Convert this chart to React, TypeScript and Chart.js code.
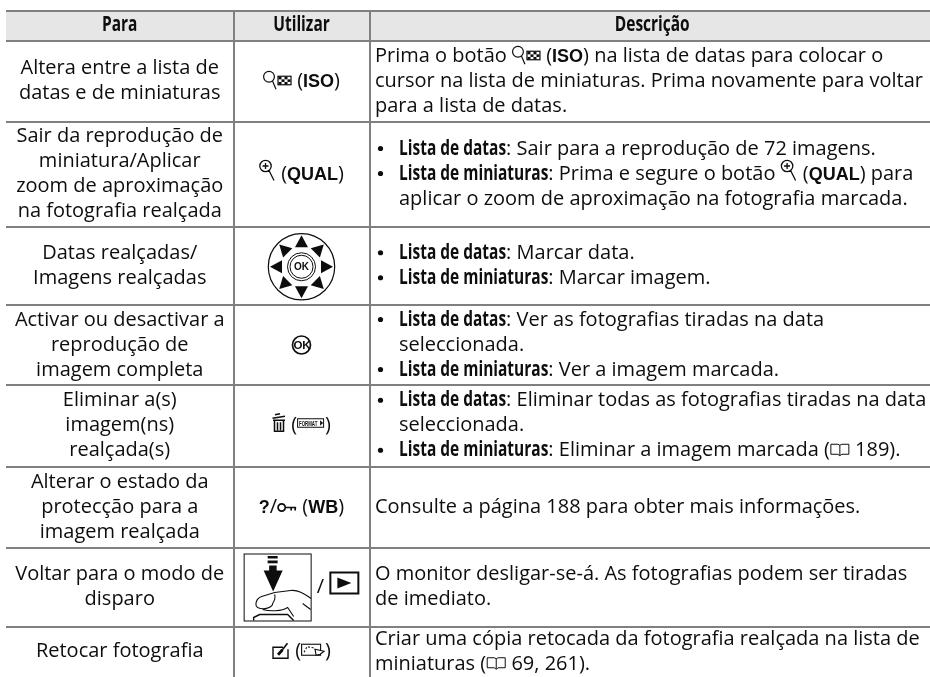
import React, { useEffect, useRef } from "react";
import { Chart, registerables } from "chart.js";

Chart.register(...registerables);

const headers = ["Para", "Utilizar", "Descrição"];

const paraCells = [
  ["Altera entre a lista de", "datas e de miniaturas"],
  ["Sair da reprodução de", "miniatura/Aplicar", "zoom de aproximação", "na fotografia realçada"],
  ["Datas realçadas/", "Imagens realçadas"],
  ["Activar ou desactivar a", "reprodução de", "imagem completa"],
  ["Eliminar a(s)", "imagem(ns)", "realçada(s)"],
  ["Alterar o estado da", "protecção para a", "imagem realçada"],
  ["Voltar para o modo de", "disparo"],
  ["Retocar fotografia"],
];

const utilizarCells = [
  ["{qgrid} ([[ISO]])"],
  ["{zoomin} ([[QUAL]])"],
  ["{selector}"],
  ["{ok}"],
  ["{trash} ({format})"],
  ["[[?]]/{key} ([[WB]])"],
  ["{shutter} / {play}"],
  ["{retouch} ({trim})"],
];

const descricaoCells = [
  [
    "Prima o botão {qgrid} ([[ISO]]) na lista de datas para colocar o",
    "cursor na lista de miniaturas. Prima novamente para voltar",
    "para a lista de datas.",
  ],
  [
    "• **Lista de datas**: Sair para a reprodução de 72 imagens.",
    "• **Lista de miniaturas**: Prima e segure o botão {zoomin} ([[QUAL]]) para",
    "> aplicar o zoom de aproximação na fotografia marcada.",
  ],
  ["• **Lista de datas**: Marcar data.", "• **Lista de miniaturas**: Marcar imagem."],
  [
    "• **Lista de datas**: Ver as fotografias tiradas na data",
    "> seleccionada.",
    "• **Lista de miniaturas**: Ver a imagem marcada.",
  ],
  [
    "• **Lista de datas**: Eliminar todas as fotografias tiradas na data",
    "> seleccionada.",
    "• **Lista de miniaturas**: Eliminar a imagem marcada ({book} 189).",
  ],
  ["Consulte a página 188 para obter mais informações."],
  ["O monitor desligar-se-á. As fotografias podem ser tiradas", "de imediato."],
  ["Criar uma cópia retocada da fotografia realçada na lista de", "miniaturas ({book} 69, 261)."],
];

const columnLines = [233.5, 369.5];
const columnEdges = [6, 233.5, 369.5, 930];
const rowLines = [11, 41, 121.5, 226.5, 305, 385, 466.5, 547.5, 626.5];
const rowEdges = [...rowLines, 677];

const INK = "#0d0d0d";
const RULE = "#808080";
const HEADER_FILL = "#e6e6e6";
const REG_FONT = '20.5px "Open Sans"';
const REG_SCALE = 0.975;
const COND_FONT = 'bold 20.5px "Open Sans"';
const COND_SCALE = 0.755;
const WIDE_FONT = 'bold 18px "Liberation Sans"';

const iconWidths: Record<string, number> = {
  qgrid: 29,
  zoomin: 17,
  selector: 68,
  ok: 20,
  trash: 14,
  format: 28,
  key: 20,
  shutter: 68,
  play: 30,
  retouch: 18,
  trim: 24,
  book: 20,
};

type Ctx = CanvasRenderingContext2D;

function poly(c: Ctx, pts: number[][]) {
  c.beginPath();
  pts.forEach((p, i) => (i ? c.lineTo(p[0], p[1]) : c.moveTo(p[0], p[1])));
  c.closePath();
}

function drawIcon(c: Ctx, name: string, x: number, b: number) {
  c.save();
  c.translate(x, b);
  c.strokeStyle = INK;
  c.fillStyle = INK;
  c.lineWidth = 1.2;
  c.lineCap = "butt";
  if (name === "qgrid") {
    c.beginPath();
    c.arc(6, -10, 5.4, 0, Math.PI * 2);
    c.moveTo(9.5, -5.8);
    c.lineTo(13, 2.5);
    c.stroke();
    c.strokeRect(15, -10.5, 13, 8.5);
    for (let i = 0; i < 4; i++)
      for (let j = 0; j < 3; j++)
        if ((i + j) % 2 === 0) c.fillRect(15.5 + i * 3, -10 + j * 2.6, 3, 2.6);
  } else if (name === "zoomin") {
    c.lineWidth = 1.3;
    c.beginPath();
    c.arc(6.5, -13.5, 5.7, 0, Math.PI * 2);
    c.moveTo(3.5, -13.5);
    c.lineTo(9.5, -13.5);
    c.moveTo(6.5, -16.5);
    c.lineTo(6.5, -10.5);
    c.moveTo(10, -9);
    c.lineTo(15, 1);
    c.stroke();
  } else if (name === "selector") {
    const cx = 34;
    const cy = -4.5;
    c.beginPath();
    c.arc(cx, cy, 33.2, 0, Math.PI * 2);
    c.stroke();
    for (let k = 0; k < 8; k++) {
      const a = (k * Math.PI) / 4;
      c.save();
      c.translate(cx, cy);
      c.rotate(a);
      poly(c, [
        [0, -31.5],
        [-6.5, -19.5],
        [6.5, -19.5],
      ]);
      c.fill();
      c.restore();
    }
    c.lineWidth = 1;
    c.beginPath();
    c.arc(cx, cy, 14, 0, Math.PI * 2);
    c.moveTo(cx + 11.5, cy);
    c.arc(cx, cy, 11.5, 0, Math.PI * 2);
    c.stroke();
    c.font = 'bold 10px "Liberation Sans"';
    c.textAlign = "center";
    c.fillText("OK", cx, cy + 3.6);
  } else if (name === "ok") {
    c.lineWidth = 1.7;
    c.beginPath();
    c.arc(10, -5.5, 9, 0, Math.PI * 2);
    c.stroke();
    c.font = 'bold 11.5px "Liberation Sans"';
    c.textAlign = "center";
    c.fillText("OK", 10.5, -1.5);
  } else if (name === "trash") {
    c.lineWidth = 1.5;
    c.beginPath();
    c.moveTo(0.5, -13);
    c.lineTo(13, -15);
    c.moveTo(3, -16.5);
    c.lineTo(8, -17.5);
    c.moveTo(1, -11);
    c.lineTo(13, -11);
    c.moveTo(2.5, -11);
    c.lineTo(2.5, 0);
    c.lineTo(11.5, 0);
    c.lineTo(11.5, -11);
    c.moveTo(5.5, -9);
    c.lineTo(5.5, -1);
    c.moveTo(8.5, -9);
    c.lineTo(8.5, -1);
    c.stroke();
  } else if (name === "format") {
    c.lineWidth = 1;
    c.strokeRect(0.5, -12.5, 26, 8.5);
    c.save();
    c.translate(2, -5.7);
    c.scale(0.62, 1);
    c.font = 'bold 7px "Liberation Sans"';
    c.fillText("FORMAT", 0, 0);
    c.restore();
    poly(c, [
      [23, -11],
      [26, -8.2],
      [23, -5.5],
    ]);
    c.fill();
  } else if (name === "key") {
    c.lineWidth = 1.7;
    c.beginPath();
    c.arc(4.5, -5, 3.6, 0, Math.PI * 2);
    c.moveTo(8, -5);
    c.lineTo(19, -5);
    c.moveTo(14, -5);
    c.lineTo(14, -2);
    c.moveTo(18, -5);
    c.lineTo(18, -2);
    c.stroke();
  } else if (name === "shutter") {
    c.translate(0, -39);
    c.lineWidth = 1;
    c.strokeRect(0.5, 0.5, 67, 67);
    c.fillRect(24, 2.5, 10, 2.5);
    c.fillRect(24, 7, 10, 2.8);
    poly(c, [
      [25.5, 12],
      [33, 12],
      [33, 17],
      [39, 17],
      [29.5, 38],
      [20, 17],
      [25.5, 17],
    ]);
    c.fill();
    c.lineWidth = 1.1;
    c.beginPath();
    c.moveTo(67.5, 45);
    c.bezierCurveTo(60, 40, 54, 36, 47, 37);
    c.lineTo(31, 39);
    c.lineTo(18, 43);
    c.bezierCurveTo(12, 45, 11, 52, 14, 54);
    c.bezierCurveTo(20, 57, 29, 54, 29, 50);
    c.bezierCurveTo(31, 47, 32, 44, 31, 41);
    c.moveTo(19, 56);
    c.bezierCurveTo(26, 58, 38, 58, 44, 54);
    c.lineTo(50, 63);
    c.moveTo(59, 50);
    c.lineTo(67, 56);
    c.stroke();
    c.lineWidth = 1.4;
    c.beginPath();
    c.moveTo(10, 67);
    c.lineTo(10, 64);
    c.lineTo(16, 61);
    c.lineTo(44, 61);
    c.lineTo(50, 67);
    c.stroke();
  } else if (name === "play") {
    c.lineWidth = 2;
    c.strokeRect(1, -20, 28, 21);
    poly(c, [
      [8, -15],
      [22, -9.5],
      [8, -4],
    ]);
    c.fill();
  } else if (name === "retouch") {
    c.lineWidth = 1.4;
    c.beginPath();
    c.moveTo(11, -10);
    c.lineTo(1, -10);
    c.lineTo(1, 1);
    c.lineTo(16, 1);
    c.lineTo(16, -8);
    c.stroke();
    c.lineWidth = 2.8;
    c.beginPath();
    c.moveTo(6, -2.5);
    c.lineTo(10.5, -7.5);
    c.stroke();
    c.lineWidth = 1.6;
    c.beginPath();
    c.moveTo(10, -7);
    c.lineTo(15.5, -14);
    c.stroke();
  } else if (name === "trim") {
    c.lineWidth = 1.1;
    c.strokeRect(0.5, -13, 19, 11);
    c.setLineDash([2, 1.6]);
    c.beginPath();
    c.moveTo(3, -5);
    c.lineTo(6, -10.5);
    c.lineTo(12, -9.5);
    c.lineTo(15, -7);
    c.stroke();
    c.setLineDash([]);
    c.fillStyle = "#ffffff";
    poly(c, [
      [14, -8],
      [23, -6],
      [19, -3],
      [15, -2],
    ]);
    c.fill();
    c.stroke();
  } else if (name === "book") {
    c.lineWidth = 1;
    c.beginPath();
    c.moveTo(1, -12);
    c.lineTo(1, -2);
    c.lineTo(8, -2);
    c.lineTo(10, -0.5);
    c.lineTo(12, -2);
    c.lineTo(19, -2);
    c.lineTo(19, -12);
    c.lineTo(12, -12);
    c.lineTo(10, -11);
    c.lineTo(8, -12);
    c.closePath();
    c.moveTo(10, -11);
    c.lineTo(10, -1);
    c.stroke();
  }
  c.restore();
}

type Seg = { kind: "r" | "c" | "w" | "i"; text: string };

function parse(line: string): Seg[] {
  return line
    .split(/(\*\*.+?\*\*|\[\[.+?\]\]|\{\w+\})/)
    .filter((s) => s.length > 0)
    .map((s): Seg => {
      if (s.startsWith("**")) return { kind: "c", text: s.slice(2, -2) };
      if (s.startsWith("[[")) return { kind: "w", text: s.slice(2, -2) };
      if (s.startsWith("{")) return { kind: "i", text: s.slice(1, -1) };
      return { kind: "r", text: s };
    });
}

function segWidth(c: Ctx, s: Seg) {
  if (s.kind === "i") return iconWidths[s.text];
  if (s.kind === "c") {
    c.font = COND_FONT;
    return c.measureText(s.text).width * COND_SCALE;
  }
  if (s.kind === "w") {
    c.font = WIDE_FONT;
    return c.measureText(s.text).width;
  }
  c.font = REG_FONT;
  return c.measureText(s.text).width * REG_SCALE;
}

function drawLine(c: Ctx, line: string, x: number, y: number, centered: boolean) {
  const segs = parse(line);
  let cur = x;
  if (centered) cur -= segs.reduce((a, s) => a + segWidth(c, s), 0) / 2;
  for (const s of segs) {
    const w = segWidth(c, s);
    if (s.kind === "i") {
      drawIcon(c, s.text, cur, y);
    } else if (s.kind === "w") {
      c.font = WIDE_FONT;
      c.fillText(s.text, cur, y);
    } else {
      c.font = s.kind === "c" ? COND_FONT : REG_FONT;
      c.save();
      c.translate(cur, y);
      c.scale(s.kind === "c" ? COND_SCALE : REG_SCALE, 1);
      c.fillText(s.text, 0, 0);
      c.restore();
    }
    cur += w;
  }
}

const tablePlugin = {
  id: "tableCells",
  beforeDraw(chart: any) {
    const { x, y } = chart.scales;
    const c: Ctx = chart.ctx;
    c.save();
    c.fillStyle = HEADER_FILL;
    c.fillRect(
      x.getPixelForValue(columnEdges[0]),
      y.getPixelForValue(rowEdges[0]),
      x.getPixelForValue(columnEdges[3]) - x.getPixelForValue(columnEdges[0]),
      y.getPixelForValue(rowEdges[1]) - y.getPixelForValue(rowEdges[0])
    );
    c.restore();
  },
  afterDraw(chart: any) {
    const { x, y } = chart.scales;
    const c: Ctx = chart.ctx;
    c.save();
    c.fillStyle = INK;
    c.textBaseline = "alphabetic";
    c.textAlign = "left";
    const colMid = (k: number) => x.getPixelForValue((columnEdges[k] + columnEdges[k + 1]) / 2);
    const rowMid = (k: number) => y.getPixelForValue((rowEdges[k] + rowEdges[k + 1]) / 2);
    headers.forEach((h, k) => drawLine(c, `**${h}**`, colMid(k) + (k === 2 ? 2.5 : 0), rowMid(0) + 5, true));
    const pitch = 25;
    const textLeft = x.getPixelForValue(columnEdges[2]) + 5.5;
    const indent = 24;
    for (let r = 0; r < paraCells.length; r++) {
      const mid = rowMid(r + 1) + 5.5;
      const place = (n: number, i: number) => mid + (i - (n - 1) / 2) * pitch;
      paraCells[r].forEach((l, i) => drawLine(c, l, colMid(0), place(paraCells[r].length, i), true));
      utilizarCells[r].forEach((l, i) => drawLine(c, l, colMid(1), place(utilizarCells[r].length, i), true));
      descricaoCells[r].forEach((l, i) => {
        const yy = place(descricaoCells[r].length, i);
        if (l.startsWith("• ")) {
          c.beginPath();
          c.arc(textLeft + 5.5, yy - 6, 2.6, 0, Math.PI * 2);
          c.fill();
          drawLine(c, l.slice(2), textLeft + indent, yy, false);
        } else if (l.startsWith("> ")) {
          drawLine(c, l.slice(2), textLeft + indent, yy, false);
        } else {
          drawLine(c, l, textLeft, yy, false);
        }
      });
    }
    c.restore();
  },
};

export default function App() {
  const ref = useRef<HTMLCanvasElement>(null);
  useEffect(() => {
    if (!ref.current) return;
    const grid = { color: RULE, lineWidth: 2, drawTicks: false };
    const chart = new Chart(ref.current, {
      type: "scatter",
      data: { datasets: [{ data: [] }] },
      plugins: [tablePlugin],
      options: {
        animation: false,
        responsive: false,
        layout: { padding: { left: columnEdges[0], top: rowEdges[0], right: 0, bottom: 0 } },
        plugins: { legend: { display: false }, tooltip: { enabled: false } },
        scales: {
          x: {
            type: "linear",
            min: columnEdges[0],
            max: columnEdges[3],
            grid,
            border: { display: false },
            ticks: { display: false },
            afterBuildTicks: (s: any) => {
              s.ticks = columnLines.map((value) => ({ value }));
            },
          },
          y: {
            type: "linear",
            reverse: true,
            min: rowEdges[0],
            max: rowEdges[rowEdges.length - 1],
            grid,
            border: { display: false },
            ticks: { display: false },
            afterBuildTicks: (s: any) => {
              s.ticks = rowLines.map((value) => ({ value }));
            },
          },
        },
      },
    } as any);
    return () => chart.destroy();
  }, []);
  return (
    <canvas
      ref={ref}
      width={930}
      height={677}
      style={{ position: "fixed", left: 0, top: 0, width: 930, height: 677, display: "block" }}
    />
  );
}
